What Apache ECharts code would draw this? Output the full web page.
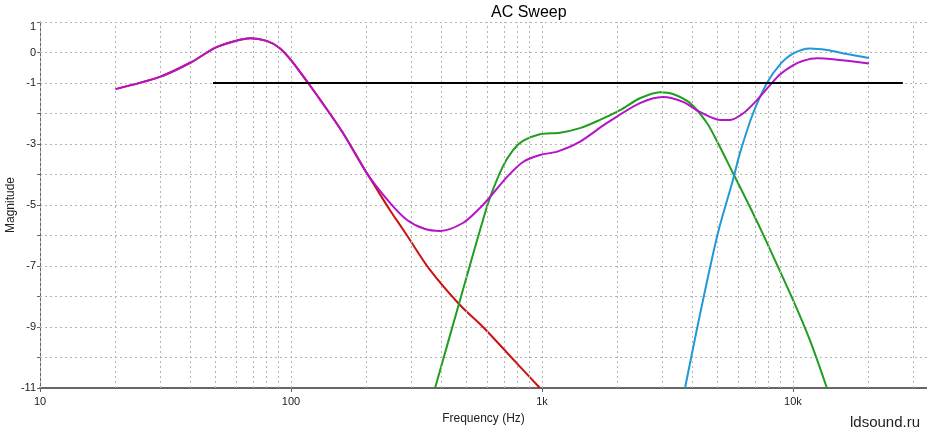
<!DOCTYPE html>
<html>
<head>
<meta charset="utf-8">
<script src="https://cdn.jsdelivr.net/npm/echarts@6/dist/echarts.min.js"></script>
<style>html,body{margin:0;padding:0;background:#fff;}#c{width:927px;height:431px;}</style>
</head>
<body>
<div id="c"></div>
<script>
// Frequencies in Hz, magnitudes in the chart's units
const yTickLabels = [1, 0, -1, -3, -5, -7, -9, -11];
const xTickLabels = {1: '10', 2: '100', 3: '1k', 4: '10k'};

const sumFreq = [20, 30, 40, 50, 60, 69, 80, 90, 100, 117, 131, 160, 201, 248, 290, 340, 393, 484, 566, 621, 726, 840, 981, 1150, 1400, 1815, 2456, 3034, 3648, 4258, 5117, 5610, 6323, 7190, 8100, 8871, 10000, 11000, 12470, 14430, 20090];
const sumMag  = [-1.20, -0.80, -0.32, 0.16, 0.38, 0.47, 0.38, 0.15, -0.25, -1.0, -1.56, -2.6, -3.97, -4.93, -5.49, -5.78, -5.85, -5.59, -5.10, -4.74, -4.08, -3.59, -3.36, -3.25, -2.95, -2.31, -1.66, -1.46, -1.62, -1.95, -2.21, -2.21, -2.0, -1.56, -1.07, -0.72, -0.42, -0.27, -0.19, -0.22, -0.36];

const wooferFreq = [20, 30, 40, 50, 60, 69, 80, 90, 100, 117, 131, 160, 201, 225, 248, 272, 290, 358, 471, 582, 746, 981];
const wooferMag  = [-1.20, -0.80, -0.32, 0.16, 0.38, 0.47, 0.38, 0.15, -0.25, -1.0, -1.56, -2.6, -3.97, -4.62, -5.17, -5.66, -6.0, -7.13, -8.28, -9.0, -9.95, -11.0];

const midFreq = [375, 471, 531, 582, 621, 697, 767, 839, 981, 1180, 1416, 1702, 2047, 2456, 2951, 3325, 3889, 4543, 5023, 5766, 6742, 7393, 10000, 11700, 13650];
const midMag  = [-11.0, -8.13, -6.62, -5.49, -4.75, -3.75, -3.2, -2.9, -2.68, -2.63, -2.48, -2.21, -1.89, -1.5, -1.3, -1.36, -1.66, -2.31, -2.97, -3.95, -5.07, -5.75, -8.11, -9.45, -11.0];

const tweeterFreq = [3715, 4258, 5023, 5766, 6147, 6930, 7880, 8871, 10000, 11690, 13650, 16400, 20090];
const tweeterMag  = [-11.0, -8.6, -5.92, -4.18, -3.3, -2.0, -1.0, -0.40, -0.04, 0.13, 0.08, -0.05, -0.18];

const refFreq = [48.9, 27400];
const refMag  = [-1, -1];

const xMinLog = 1;
const xMaxLog = 4.534;

function toPts(f, m) { return f.map((v, i) => [Math.log10(v), m[i]]); }

const gridFreqs = [];
[10, 100, 1000, 10000].forEach(d => {
  for (let k = 1; k <= 9; k++) {
    const f = k * d;
    if (Math.log10(f) <= xMaxLog + 1e-9) gridFreqs.push(f);
  }
});

const chart = echarts.init(document.getElementById('c'), null, {renderer: 'canvas'});
const FONT = '"Liberation Sans", Arial, sans-serif';

function lineSeries(name, f, m, color, z) {
  return {
    name: name, type: 'line', data: toPts(f, m), smooth: 0.3, showSymbol: false,
    lineStyle: {color: color, width: 2}, itemStyle: {color: color}, z: z, animation: false, clip: true
  };
}

chart.setOption({
  animation: false,
  backgroundColor: '#ffffff',
  title: {
    text: 'AC Sweep', left: 486, top: 0,
    textStyle: {fontFamily: FONT, fontSize: 16, fontWeight: 'normal', color: '#000'}
  },
  grid: {left: 40, right: 0, top: 22, bottom: 43, outerBoundsMode: 'none', containLabel: false},
  xAxis: {
    type: 'value', min: xMinLog, max: xMaxLog, interval: 1,
    name: 'Frequency (Hz)', nameLocation: 'middle', nameGap: 25,
    nameTextStyle: {fontFamily: FONT, fontSize: 12, color: '#222'},
    axisLine: {show: true, onZero: false, lineStyle: {color: '#666', width: 2}},
    axisTick: {show: true, length: 4, lineStyle: {color: '#666'}},
    axisLabel: {
      fontFamily: FONT, fontSize: 11, color: '#222', margin: 8,
      formatter: v => xTickLabels[Math.round(v)] || '',
      showMaxLabel: false
    },
    splitLine: {show: false}
  },
  yAxis: {
    type: 'value', min: -11, max: 1, interval: 1,
    name: 'Magnitude', nameLocation: 'middle', nameGap: 23, nameRotate: 90, nameMoveOverlap: false,
    nameTextStyle: {fontFamily: FONT, fontSize: 12, color: '#222'},
    axisLine: {show: true, lineStyle: {color: '#666', width: 1}},
    axisTick: {show: true, length: 3, lineStyle: {color: '#666'}},
    axisLabel: {
      fontFamily: FONT, fontSize: 11, color: '#222', margin: 4,
      formatter: v => {
        const r = Math.round(v);
        if (yTickLabels.indexOf(r) < 0) return '';
        return r === 1 ? '{top|1}' : String(r);
      },
      rich: {top: {fontFamily: FONT, fontSize: 11, color: '#222', padding: [10, 0, 0, 0]}}
    },
    splitLine: {show: true, lineStyle: {color: '#b4b4b4', type: [2, 3], width: 1}}
  },
  series: [
    {
      type: 'line', data: [], silent: true,
      markLine: {
        silent: true, symbol: ['none', 'none'], animation: false,
        label: {show: false},
        lineStyle: {color: '#b4b4b4', type: [2, 3], width: 1},
        data: gridFreqs.map(f => ({xAxis: Math.log10(f)}))
      }
    },
    lineSeries('Woofer', wooferFreq, wooferMag, '#cc1111', 3),
    lineSeries('Mid', midFreq, midMag, '#1f9e1f', 4),
    lineSeries('Tweeter', tweeterFreq, tweeterMag, '#2299d6', 5),
    lineSeries('Sum', sumFreq, sumMag, '#b414c8', 6),
    {
      name: 'Ref', type: 'line', data: toPts(refFreq, refMag), showSymbol: false,
      lineStyle: {color: '#000', width: 2}, z: 7, animation: false
    }
  ],
  graphic: [{
    type: 'text', right: 7, bottom: 1,
    style: {text: 'ldsound.ru', fontFamily: FONT, fontSize: 15, fill: '#222'}
  }]
});
</script>
</body>
</html>
